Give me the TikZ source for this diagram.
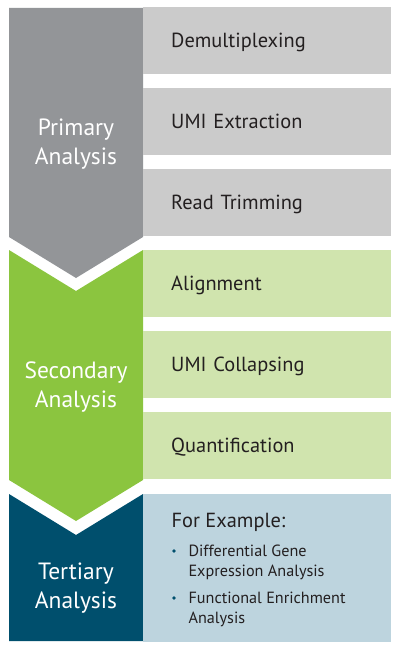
\documentclass[tikz,border=0pt]{standalone}
\usepackage{fontspec}
\setmainfont{PT Sans}
\definecolor{primgray}{HTML}{939598}
\definecolor{lightgray}{HTML}{CBCBCB}
\definecolor{secgreen}{HTML}{8BC53F}
\definecolor{lightgreen}{HTML}{D0E4AE}
\definecolor{tertblue}{HTML}{004F6D}
\definecolor{lightblue}{HTML}{BDD4DE}
\definecolor{textgray}{HTML}{231F20}
\begin{document}
\begin{tikzpicture}[x=1pt, y=-1pt,
	stepbox/.style={anchor=west, minimum width=248pt, minimum height=67pt, inner xsep=28pt, text width=192pt, text height=14pt, text depth=0pt, align=left, text=textgray, font=\fontsize{20.4}{24}\selectfont},
	phase/.style={text=white, align=center, font=\fontsize{23.5}{29}\selectfont},
	item/.style={anchor=west, align=left, text=textgray, font=\fontsize{16.2}{19.5}\selectfont}]
	\useasboundingbox (0,0) rectangle (400,650);
	% arrows on the left
	\fill[primgray] (9,8) -- (143,8) -- (143,237) -- (76,278) -- (9,237) -- cycle;
	\fill[secgreen] (9,250) -- (76,291) -- (143,250) -- (143,480) -- (76,521) -- (9,480) -- cycle;
	\fill[tertblue] (9,494) -- (76,535) -- (143,494) -- (143,641) -- (9,641) -- cycle;
	\node (P) at (76,144) [phase] {Primary\\Analysis};
	\node (S) at (76,387) [phase] {Secondary\\Analysis};
	\node (T) at (76,588) [phase] {Tertiary\\Analysis};
	% steps
	\node (D1) at (143, 41.0) [stepbox, fill=lightgray]	{Demultiplexing};
	\node (D2) at (143,121.5) [stepbox, fill=lightgray]	{UMI Extraction};
	\node (D3) at (143,202.5) [stepbox, fill=lightgray]	{Read Trimming};
	\node (D4) at (143,283.5) [stepbox, fill=lightgreen]	{Alignment};
	\node (D5) at (143,364.5) [stepbox, fill=lightgreen]	{UMI Collapsing};
	\node (D6) at (143,445.5) [stepbox, fill=lightgreen]	{Quantification};
	\node (D7) at (143,567.5) [stepbox, fill=lightblue, minimum height=148pt, text height=0pt] {};
	\node (E)  at (168,522.5) [anchor=west, text=textgray, font=\fontsize{20.4}{24}\selectfont] {For Example:};
	\node (B1) at (174,551) [circle, fill=tertblue, inner sep=0pt, minimum size=3.6pt] {};
	\node (B2) at (174,598) [circle, fill=tertblue, inner sep=0pt, minimum size=3.6pt] {};
	\node (I1) at (185,562.5) [item] {Differential Gene\\Expression Analysis};
	\node (I2) at (185,609.5) [item] {Functional Enrichment\\Analysis};
\end{tikzpicture}
\end{document}
